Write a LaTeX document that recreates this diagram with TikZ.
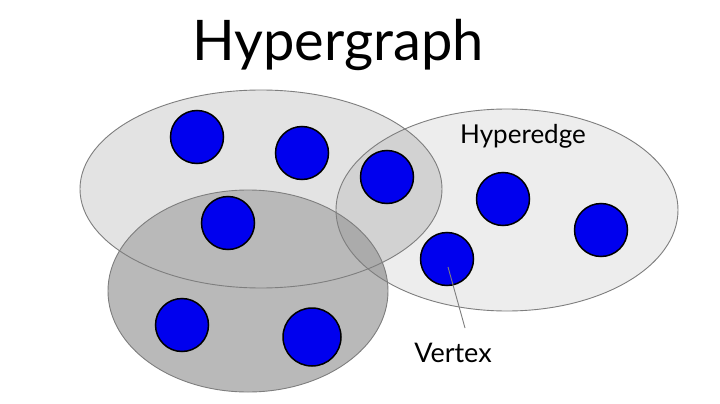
\documentclass[tikz,border=0pt]{standalone}
\usepackage{fontspec}
\setmainfont{Lato}
\usepackage{xcolor}
\definecolor{vblue}{HTML}{0000EE}
\definecolor{edgegray}{HTML}{7E7E7E}
\usetikzlibrary{calc}

\begin{document}
\begin{tikzpicture}
		[x=1pt,y=-1pt,
		vertex/.style={draw=black,line width=1.5pt,fill=vblue,circle,inner sep=0pt,minimum size=53pt},
		rim/.style={draw=edgegray,line width=0.9pt},
		pointer/.style={draw=edgegray,line width=0.9pt},
		title/.style={font=\fontsize{56}{56}\selectfont,anchor=base},
		tag/.style={font=\fontsize{26}{26}\selectfont,anchor=base}
		]
		
		\useasboundingbox[fill=white] (0,0) rectangle (720,404);
		
		% hyperedges
		\fill[fill={rgb,255:red,227;green,227;blue,227}] (261,189) ellipse [x radius=181,y radius=99];
		\fill[fill={rgb,255:red,185;green,185;blue,185}] (248,291) ellipse [x radius=140,y radius=101];
		\fill[black,fill opacity=0.07] (507,210) ellipse [x radius=171,y radius=101];
		\draw[rim] (261,189) ellipse [x radius=181,y radius=99];
		\draw[rim] (248,291) ellipse [x radius=140,y radius=101];
		\draw[rim] (507,210) ellipse [x radius=171,y radius=101];
		
		% vertices
		\node[vertex] (v1) at (197,137) {};
		\node[vertex] (v2) at (302,153) {};
		\node[vertex] (v3) at (387,177) {};
		\node[vertex] (v4) at (228,223) {};
		\node[vertex] (v5) at (503,199) {};
		\node[vertex] (v6) at (601,230) {};
		\node[vertex] (v7) at (447,259) {};
		\node[vertex] (v8) at (182,325) {};
		\node[vertex,minimum size=58pt] (v9) at (312,337) {};
		
		% labels
		\node[title] (head) at (338,60) {Hypergraph};
		\node[tag] (lble) at (523,143) {Hyperedge};
		\node[tag,font=\fontsize{27}{27}\selectfont] (lblv) at (453,362) {Vertex};
		\coordinate (tip) at (465,328);
		\draw[pointer] ($(v7.center)+(1,8)$) -- (tip);
	\end{tikzpicture}
\end{document}
